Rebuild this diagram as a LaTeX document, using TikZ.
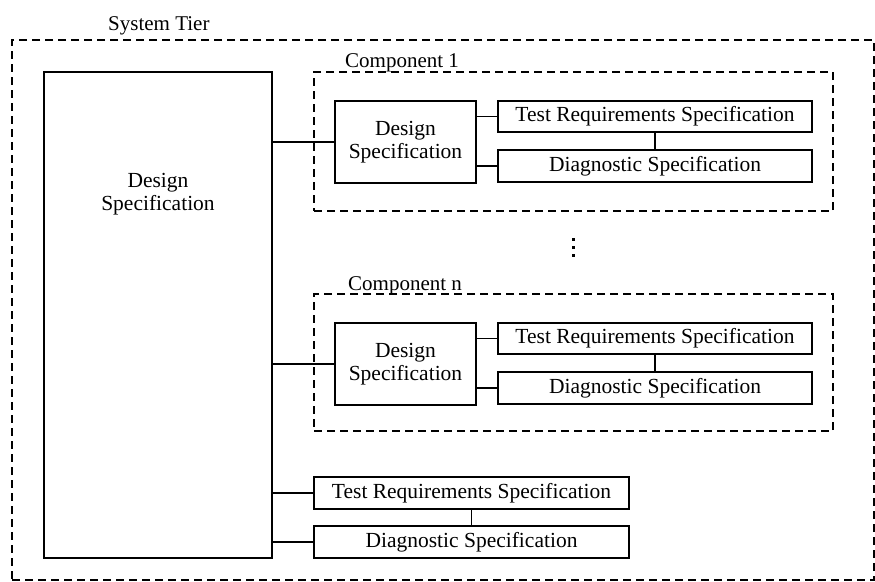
\documentclass[tikz,border=0pt]{standalone}
\usepackage{fontspec}
\setmainfont{Liberation Serif}
\begin{document}
\begin{tikzpicture}[x=1pt,y=-1pt,
  every node/.style={font=\fontsize{21.5}{23.5}\selectfont},
  sbox/.style={draw,line width=1.4pt,inner sep=0pt,align=center},
  frame/.style={draw,line width=1.3pt,dash pattern=on 8pt off 5pt,inner sep=0pt},
  wire/.style={line width=1.4pt},
  caption/.style={anchor=base west,inner sep=0pt,font=\fontsize{21}{23}\selectfont}]
\useasboundingbox (0,0) rectangle (875,581);

% system tier frame
\node[frame,minimum width=862pt,minimum height=540pt] (tier) at (443,310) {};
\node[caption] (tierlbl) at (108,30) {System Tier};

% system-level design specification
\node[sbox,minimum width=228pt,minimum height=486pt,
  label={[align=center,anchor=center,yshift=121pt,font=\fontsize{21.5}{23.5}\selectfont]center:Design\\Specification}] (big) at (158,315) {};

% component 1
\node[frame,minimum width=519pt,minimum height=139pt] (c1) at (573.5,141.5) {};
\node[caption] (c1lbl) at (345,67) {Component 1};
\node[sbox,minimum width=141pt,minimum height=82pt] (ds1) at (405.5,142) {Design\\Specification};
\node[sbox,minimum width=314pt,minimum height=31pt] (trs1) at (655,116.5) {Test Requirements Specification};
\node[sbox,minimum width=314pt,minimum height=32pt] (dg1) at (655,166) {Diagnostic Specification};

% continuation dots
\foreach \yy in {239,247,255} \fill (571.5,\yy-1.5) rectangle (574.5,\yy+1.5);

% component n
\node[frame,minimum width=519pt,minimum height=137pt] (cn) at (573.5,362.5) {};
\node[caption] (cnlbl) at (348,290) {Component n};
\node[sbox,minimum width=141pt,minimum height=82pt] (dsn) at (405.5,364) {Design\\Specification};
\node[sbox,minimum width=314pt,minimum height=31pt] (trsn) at (655,338.5) {Test Requirements Specification};
\node[sbox,minimum width=314pt,minimum height=32pt] (dgn) at (655,388) {Diagnostic Specification};

% system-level specifications
\node[sbox,minimum width=315pt,minimum height=32pt] (trs0) at (471.5,493) {Test Requirements Specification};
\node[sbox,minimum width=315pt,minimum height=32pt] (dg0) at (471.5,542) {Diagnostic Specification};

% connectors
\draw[wire] (big.east |- ds1.west) -- (ds1.west);
\draw[wire] (big.east |- dsn.west) -- (dsn.west);
\draw[wire] (big.east |- trs0.west) -- (trs0.west);
\draw[wire] (big.east |- dg0.west) -- (dg0.west);
\draw[wire] (ds1.east |- trs1.west) -- (trs1.west);
\draw[wire] (ds1.east |- dg1.west) -- (dg1.west);
\draw[wire] (dsn.east |- trsn.west) -- (trsn.west);
\draw[wire] (dsn.east |- dgn.west) -- (dgn.west);
\draw[wire] (trs1.south) -- (dg1.north);
\draw[wire] (trsn.south) -- (dgn.north);
\draw[wire] (trs0.south) -- (dg0.north);
\end{tikzpicture}
\end{document}
